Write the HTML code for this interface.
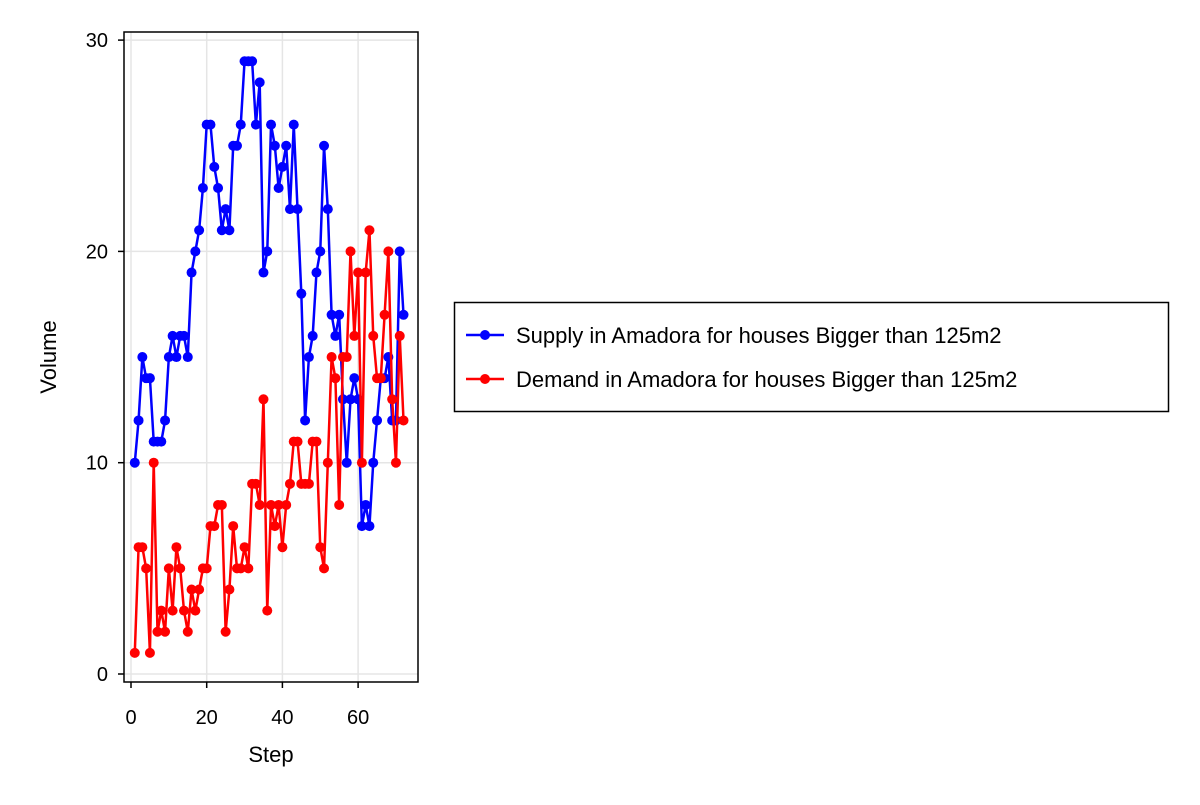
<!DOCTYPE html>
<html><head><meta charset="utf-8"><style>
body{margin:0;background:#fff;font-family:"Liberation Sans",sans-serif}
svg text{font-family:"Liberation Sans",sans-serif;fill:#000}
</style></head><body>
<svg id="chart" width="1200" height="800">
<rect width="1200" height="800" fill="#fff"/>
<g id="grid"></g><g id="series"></g><g id="axes"></g>
<text x="271" y="762" font-size="22" text-anchor="middle">Step</text>
<text transform="translate(56,357) rotate(-90)" font-size="22" text-anchor="middle">Volume</text>
<g>
<rect x="454.5" y="302.5" width="714" height="109" fill="#fff" stroke="#000" stroke-width="1.5"/>
<g>
<line x1="466" y1="335" x2="504" y2="335" stroke="#0000ff" stroke-width="2.5"/><circle cx="485" cy="335" r="5" fill="#0000ff"/>
<text x="516" y="343" font-size="22">Supply in Amadora for houses Bigger than 125m2</text></g>
<g>
<line x1="466" y1="379" x2="504" y2="379" stroke="#ff0000" stroke-width="2.5"/><circle cx="485" cy="379" r="5" fill="#ff0000"/>
<text x="516" y="387" font-size="22">Demand in Amadora for houses Bigger than 125m2</text></g>
</g>
</svg>
<script>
const steps=[];for(let i=1;i<=72;i++)steps.push(i);
const supply=[10,12,15,14,14,11,11,11,12,15,16,15,16,16,15,19,20,21,23,26,26,24,23,21,22,21,25,25,26,29,29,29,26,28,19,20,26,25,23,24,25,22,26,22,18,12,15,16,19,20,25,22,17,16,17,13,10,13,14,13,7,8,7,10,12,14,14,15,12,12,20,17];
const demand=[1,6,6,5,1,10,2,3,2,5,3,6,5,3,2,4,3,4,5,5,7,7,8,8,2,4,7,5,5,6,5,9,9,8,13,3,8,7,8,6,8,9,11,11,9,9,9,11,11,6,5,10,15,14,8,15,15,20,16,19,10,19,21,16,14,14,17,20,13,10,16,12];
const xTicks=[0,20,40,60];
const yTicks=[0,10,20,30];
const NS="http://www.w3.org/2000/svg";
const X=v=>131+v*3.785;
const Y=v=>674-v*21.13;
const L={l:124,r:418,t:32,b:682};
function mk(t,a,p){const e=document.createElementNS(NS,t);for(const k in a)e.setAttribute(k,a[k]);p.appendChild(e);return e;}
const grid=document.getElementById('grid'),axes=document.getElementById('axes'),ser=document.getElementById('series');
xTicks.forEach(t=>{
 const g=mk('line',{x1:X(t),x2:X(t),y1:L.t,y2:L.b,stroke:'#e5e5e5','stroke-width':1.5},grid);
 
 
 mk('line',{x1:X(t),x2:X(t),y1:L.b,y2:L.b+6,stroke:'#000','stroke-width':1.5},axes);
 const tx=mk('text',{x:X(t),y:724,'font-size':20,'text-anchor':'middle'},axes);tx.textContent=t;
 
 
});
yTicks.forEach(t=>{
 const g=mk('line',{x1:L.l,x2:L.r,y1:Y(t),y2:Y(t),stroke:'#e5e5e5','stroke-width':1.5},grid);
 
 
 mk('line',{x1:L.l-6,x2:L.l,y1:Y(t),y2:Y(t),stroke:'#000','stroke-width':1.5},axes);
 const tx=mk('text',{x:108,y:Y(t)+7,'font-size':20,'text-anchor':'end'},axes);tx.textContent=t;
 
 
});
const fr=mk('rect',{x:L.l,y:L.t,width:L.r-L.l,height:L.b-L.t,fill:'none',stroke:'#000','stroke-width':1.5},axes);


function draw(vals,col,name){
 const g=mk('g',{},ser);
 
 
 const pl=mk('polyline',{points:vals.map((v,i)=>X(steps[i])+','+Y(v)).join(' '),fill:'none',stroke:col,'stroke-width':2.5},g);
 
 
 vals.forEach((v,i)=>{const c=mk('circle',{cx:X(steps[i]),cy:Y(v),r:5,fill:col},g);
  
  });
}
draw(supply,'#0000ff','supply');
draw(demand,'#ff0000','demand');
</script>
</body></html>
